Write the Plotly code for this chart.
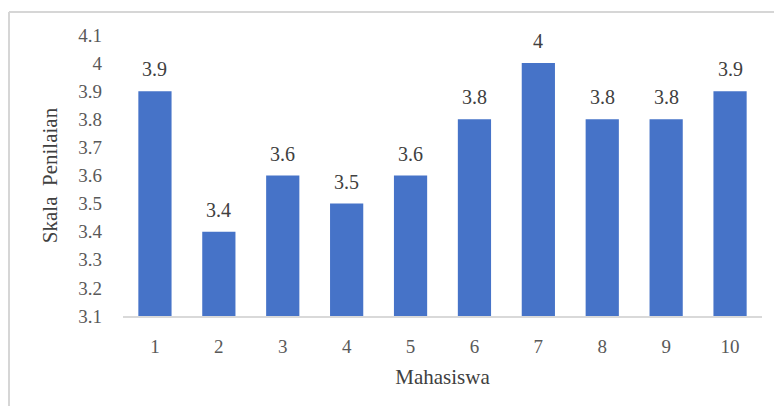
import plotly.graph_objects as go

# Rating scores per student
mahasiswa = ["1", "2", "3", "4", "5", "6", "7", "8", "9", "10"]
skala = [3.9, 3.4, 3.6, 3.5, 3.6, 3.8, 4.0, 3.8, 3.8, 3.9]
y_ticks = [3.1, 3.2, 3.3, 3.4, 3.5, 3.6, 3.7, 3.8, 3.9, 4.0, 4.1]
y_tick_text = ["3.1", "3.2", "3.3", "3.4", "3.5", "3.6", "3.7", "3.8", "3.9", "4", "4.1"]
y_floor = 3.1

W, H = 774, 406
M = dict(l=123, r=12, t=35, b=90)
font_family = "Liberation Serif"
gray = "#595959"
dark = "#404040"

pos = list(range(1, len(mahasiswa) + 1))

fig = go.Figure()
fig.add_trace(go.Bar(
    x=pos,
    y=[v - y_floor for v in skala],
    base=y_floor,
    marker=dict(color="#4673c8", line=dict(width=0)),
    customdata=skala,
    hovertemplate="%{x}: %{customdata}<extra></extra>",
))

for p, v in zip(pos, skala):
    fig.add_annotation(
        x=p, y=v, text=f"{v:g}", showarrow=False,
        yanchor="bottom", yshift=9,
        font=dict(family=font_family, size=20, color=dark),
    )

# Light outer frame of the chart (top and left edges)
pw = W - M["l"] - M["r"]
ph = H - M["t"] - M["b"]
fx0 = (9 - M["l"]) / pw
fx1 = (W + 10 - M["l"]) / pw
fy1 = ((H - M["b"]) - 12) / ph
fy0 = -(H + 10 - (H - M["b"])) / ph
frame = dict(color="#d6d6d6", width=2)
fig.add_shape(type="line", xref="paper", yref="paper",
              x0=fx0, x1=fx1, y0=fy1, y1=fy1, line=frame)
fig.add_shape(type="line", xref="paper", yref="paper",
              x0=fx0, x1=fx0, y0=fy0, y1=fy1, line=frame)

fig.update_layout(
    width=W, height=H, margin=M,
    paper_bgcolor="white", plot_bgcolor="white",
    bargap=0.48, showlegend=False,
    font=dict(family=font_family, size=19, color=gray),
    xaxis=dict(
        range=[0.5, len(pos) + 0.5], tickvals=pos, ticktext=mahasiswa,
        showgrid=False, showline=True, linecolor="#d9d9d9", linewidth=1.5,
        zeroline=False, ticks="", tickfont=dict(size=19, color=gray),
        ticklabelstandoff=12,
        title=dict(text="Mahasiswa", font=dict(size=21, color=dark), standoff=14),
    ),
    yaxis=dict(
        range=[3.1, 4.1], tickvals=y_ticks, ticktext=y_tick_text,
        showgrid=False, showline=False, zeroline=False, ticks="",
        tickfont=dict(size=19, color=gray), ticklabelstandoff=20,
        title=dict(text="Skala  Penilaian", font=dict(size=21, color=dark), standoff=14),
    ),
)

fig.write_html("out.html")
